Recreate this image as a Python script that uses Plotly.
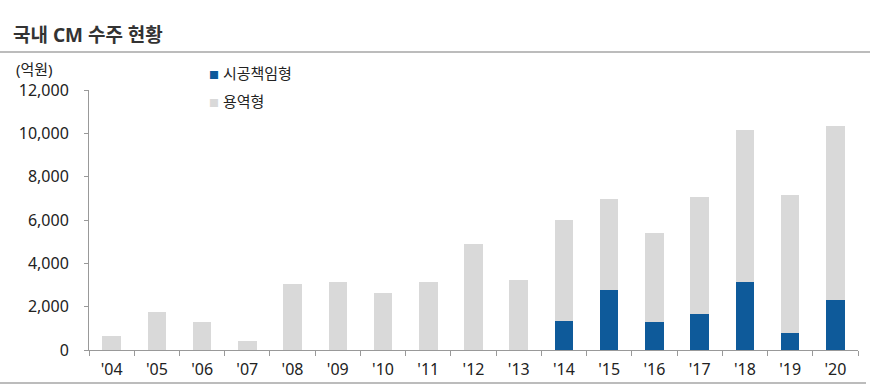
import plotly.graph_objects as go

years = ["'04", "'05", "'06", "'07", "'08", "'09", "'10", "'11", "'12",
         "'13", "'14", "'15", "'16", "'17", "'18", "'19", "'20"]
# 시공책임형 (CM at risk)
cm_risk = [0, 0, 0, 0, 0, 0, 0, 0, 0, 0, 1340, 2760, 1310, 1650, 3130, 800, 2300]
# totals; 용역형 = total - 시공책임형
totals = [630, 1760, 1310, 415, 3035, 3140, 2620, 3140, 4880, 3220,
          6000, 6980, 5380, 7070, 10150, 7160, 10330]
service = [t - r for t, r in zip(totals, cm_risk)]

BLUE = "#0E5A9A"
GRAY = "#D9D9D9"
FONT = "Noto Sans, Noto Sans CJK KR"

W, H = 882, 386
L, R, T, B = 89, 24, 90, 36
pw, ph = W - L - R, H - T - B

def px(x):
    return (x - L) / pw

def py(y):
    return (H - B - y) / ph

fig = go.Figure()
fig.add_trace(go.Bar(x=years, y=cm_risk, name="시공책임형", marker=dict(color=BLUE, line=dict(width=0))))
fig.add_trace(go.Bar(x=years, y=service, name="용역형", marker=dict(color=GRAY, line=dict(width=0))))

fig.update_layout(
    barmode="stack",
    bargap=0.59,
    width=W, height=H,
    margin=dict(l=L, r=R, t=T, b=B),
    paper_bgcolor="white", plot_bgcolor="white",
    showlegend=False,
    font=dict(family=FONT, size=16, color="#222222"),
    xaxis=dict(
        type="category", showline=True, linecolor="#999999", linewidth=1,
        ticks="outside", tickson="boundaries", ticklen=5, tickcolor="#999999",
        showgrid=False, tickfont=dict(size=16, color="#222222"),
        ticklabelstandoff=5, automargin=False,
    ),
    yaxis=dict(
        range=[0, 12000], dtick=2000, tickformat=",", showline=True,
        linecolor="#999999", linewidth=1, ticks="outside", ticklen=4,
        tickcolor="#999999", showgrid=False, zeroline=False,
        tickfont=dict(size=16, color="#222222"), ticklabelstandoff=12,
        automargin=False,
    ),
)

# Title
fig.add_annotation(text="<b>국내 CM 수주 현황</b>", xref="paper", yref="paper",
                   x=px(11), y=py(35), xanchor="left", yanchor="middle",
                   showarrow=False, font=dict(size=19, color="#333333", family=FONT))
# unit
fig.add_annotation(text="(억원)", xref="paper", yref="paper",
                   x=px(14), y=py(69), xanchor="left", yanchor="middle",
                   showarrow=False, font=dict(size=15, color="#222222", family=FONT))
# Legend (drawn as text)
fig.add_annotation(text=f"<span style='color:{BLUE};font-size:10px'>■</span> 시공책임형",
                   xref="paper", yref="paper", x=px(207), y=py(73),
                   xanchor="left", yanchor="middle", showarrow=False,
                   font=dict(size=15, color="#222222", family=FONT))
fig.add_annotation(text=f"<span style='color:{GRAY};font-size:10px'>■</span> 용역형",
                   xref="paper", yref="paper", x=px(207), y=py(101),
                   xanchor="left", yanchor="middle", showarrow=False,
                   font=dict(size=15, color="#222222", family=FONT))

# horizontal rules
fig.add_shape(type="line", xref="paper", yref="paper", x0=px(0), x1=px(870),
              y0=py(52), y1=py(52), line=dict(color="#A6A6A6", width=1.5))
fig.add_shape(type="line", xref="paper", yref="paper", x0=px(0), x1=px(866),
              y0=py(383), y1=py(383), line=dict(color="#A6A6A6", width=1.5))

fig.write_html("out.html", config={"displayModeBar": False},
               post_script="document.body.style.margin='0';")
